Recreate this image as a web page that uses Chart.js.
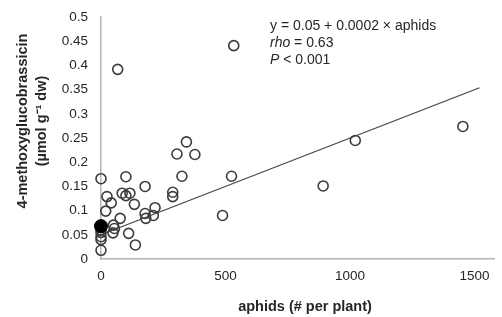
<!DOCTYPE html>
<html><head><meta charset="utf-8">
<script src="https://cdn.jsdelivr.net/npm/chart.js@4/dist/chart.umd.min.js"></script>
<style>html,body{margin:0;padding:0;background:#fff}#wrap{width:502px;height:317px}</style>
</head><body><div id="wrap"><canvas id="c"></canvas></div>
<script>
const aphids = [0,100,177,325,288,288,24,85,100,116,41,134,19,177,180,210,217,77,50,54,48,111,138,0,0,0,0,0,305,377,343,67,533,524,488,892,1021,1453];
const methoxy = [0.166,0.170,0.150,0.171,0.138,0.129,0.129,0.136,0.131,0.136,0.116,0.113,0.099,0.094,0.084,0.090,0.106,0.084,0.070,0.063,0.054,0.053,0.029,0.046,0.040,0.018,0.055,0.060,0.217,0.216,0.242,0.392,0.441,0.171,0.090,0.151,0.245,0.274];
const filledAphids = [0];
const filledMethoxy = [0.068];
const fitX = [0, 1520];
const intercept = 0.05, slope = 0.0002;
const xTicks = [0, 500, 1000, 1500];
const annotationLines = [
  [["y = 0.05 + 0.0002 \u00d7 aphids", false]],
  [["rho", true], [" = 0.63", false]],
  [["P", true], [" < 0.001", false]]
];
const xTitle = "aphids (# per plant)";
const yTitle = ["4-methoxyglucobrassicin", "(\u00b5mol g\u207b\u00b9 dw)"];

const FONT = "'Liberation Sans', Arial, sans-serif";
const ink = '#3c3c3c';
const txt = '#262626';

const annot = {
  id: 'annot',
  afterDraw(chart) {
    const ctx = chart.ctx;
    ctx.save();
    ctx.fillStyle = txt;
    ctx.textBaseline = 'alphabetic';
    ctx.textAlign = 'left';
    let y = 29.5;
    annotationLines.forEach(line => {
      let x = 270;
      line.forEach(([t, it]) => {
        ctx.font = (it ? 'italic ' : '') + '14px ' + FONT;
        ctx.fillText(t, x, y);
        x += ctx.measureText(t).width;
      });
      y += 17.3;
    });
    // axis titles
    ctx.font = 'bold 14.5px ' + FONT;
    ctx.textAlign = 'center';
    ctx.textBaseline = 'middle';
    ctx.fillText(xTitle, 305, 307);
    const ys = [22.5, 41.5];
    yTitle.forEach((t, i) => {
      ctx.save();
      ctx.translate(ys[i], 121);
      ctx.rotate(-Math.PI / 2);
      ctx.fillText(t, 0, 0);
      ctx.restore();
    });
    ctx.restore();
  }
};

new Chart(document.getElementById('c'), {
  data: {
    datasets: [
      {
        type: 'scatter',
        data: aphids.map((a, i) => ({x: a, y: methoxy[i]})),
        pointRadius: 5,
        pointHoverRadius: 5,
        pointBorderWidth: 1.6,
        pointBorderColor: ink,
        pointBackgroundColor: 'rgba(255,255,255,0)',
        clip: false,
        order: 2
      },
      {
        type: 'scatter',
        data: filledAphids.map((a, i) => ({x: a, y: filledMethoxy[i]})),
        pointRadius: 6.5,
        pointBorderWidth: 1,
        pointBorderColor: '#000',
        pointBackgroundColor: '#000',
        clip: false,
        order: 1
      },
      {
        type: 'line',
        data: fitX.map(x => ({x: x, y: intercept + slope * x})),
        borderColor: '#444',
        borderWidth: 1.2,
        pointRadius: 0,
        fill: false,
        clip: false,
        order: 3
      }
    ]
  },
  options: {
    responsive: true,
    maintainAspectRatio: false,
    animation: false,
    events: [],
    layout: {padding: {top: 16, right: 2, bottom: 0, left: 0}},
    plugins: {legend: {display: false}, tooltip: {enabled: false}},
    scales: {
      x: {
        type: 'linear',
        min: 0, max: 1580,
        afterBuildTicks: s => { s.ticks = xTicks.map(v => ({value: v})); },
        afterFit: s => { s.height = 58; },
        grid: {display: false, drawTicks: true, tickLength: 4, color: '#b5b5b5'},
        border: {color: '#b5b5b5', width: 1.5},
        ticks: {color: txt, font: {family: FONT, size: 13.5}, padding: 5, maxRotation: 0, callback: v => String(v)}
      },
      y: {
        min: 0, max: 0.5,
        ticks: {stepSize: 0.05, color: txt, font: {family: FONT, size: 13.5}, padding: 9, callback: v => String(+v.toFixed(2))},
        afterFit: s => { s.width = 101; },
        grid: {display: false, drawTicks: true, tickLength: 4, color: '#b5b5b5'},
        border: {color: '#b5b5b5', width: 1.5}
      }
    }
  },
  plugins: [annot]
});
</script>
</body></html>
